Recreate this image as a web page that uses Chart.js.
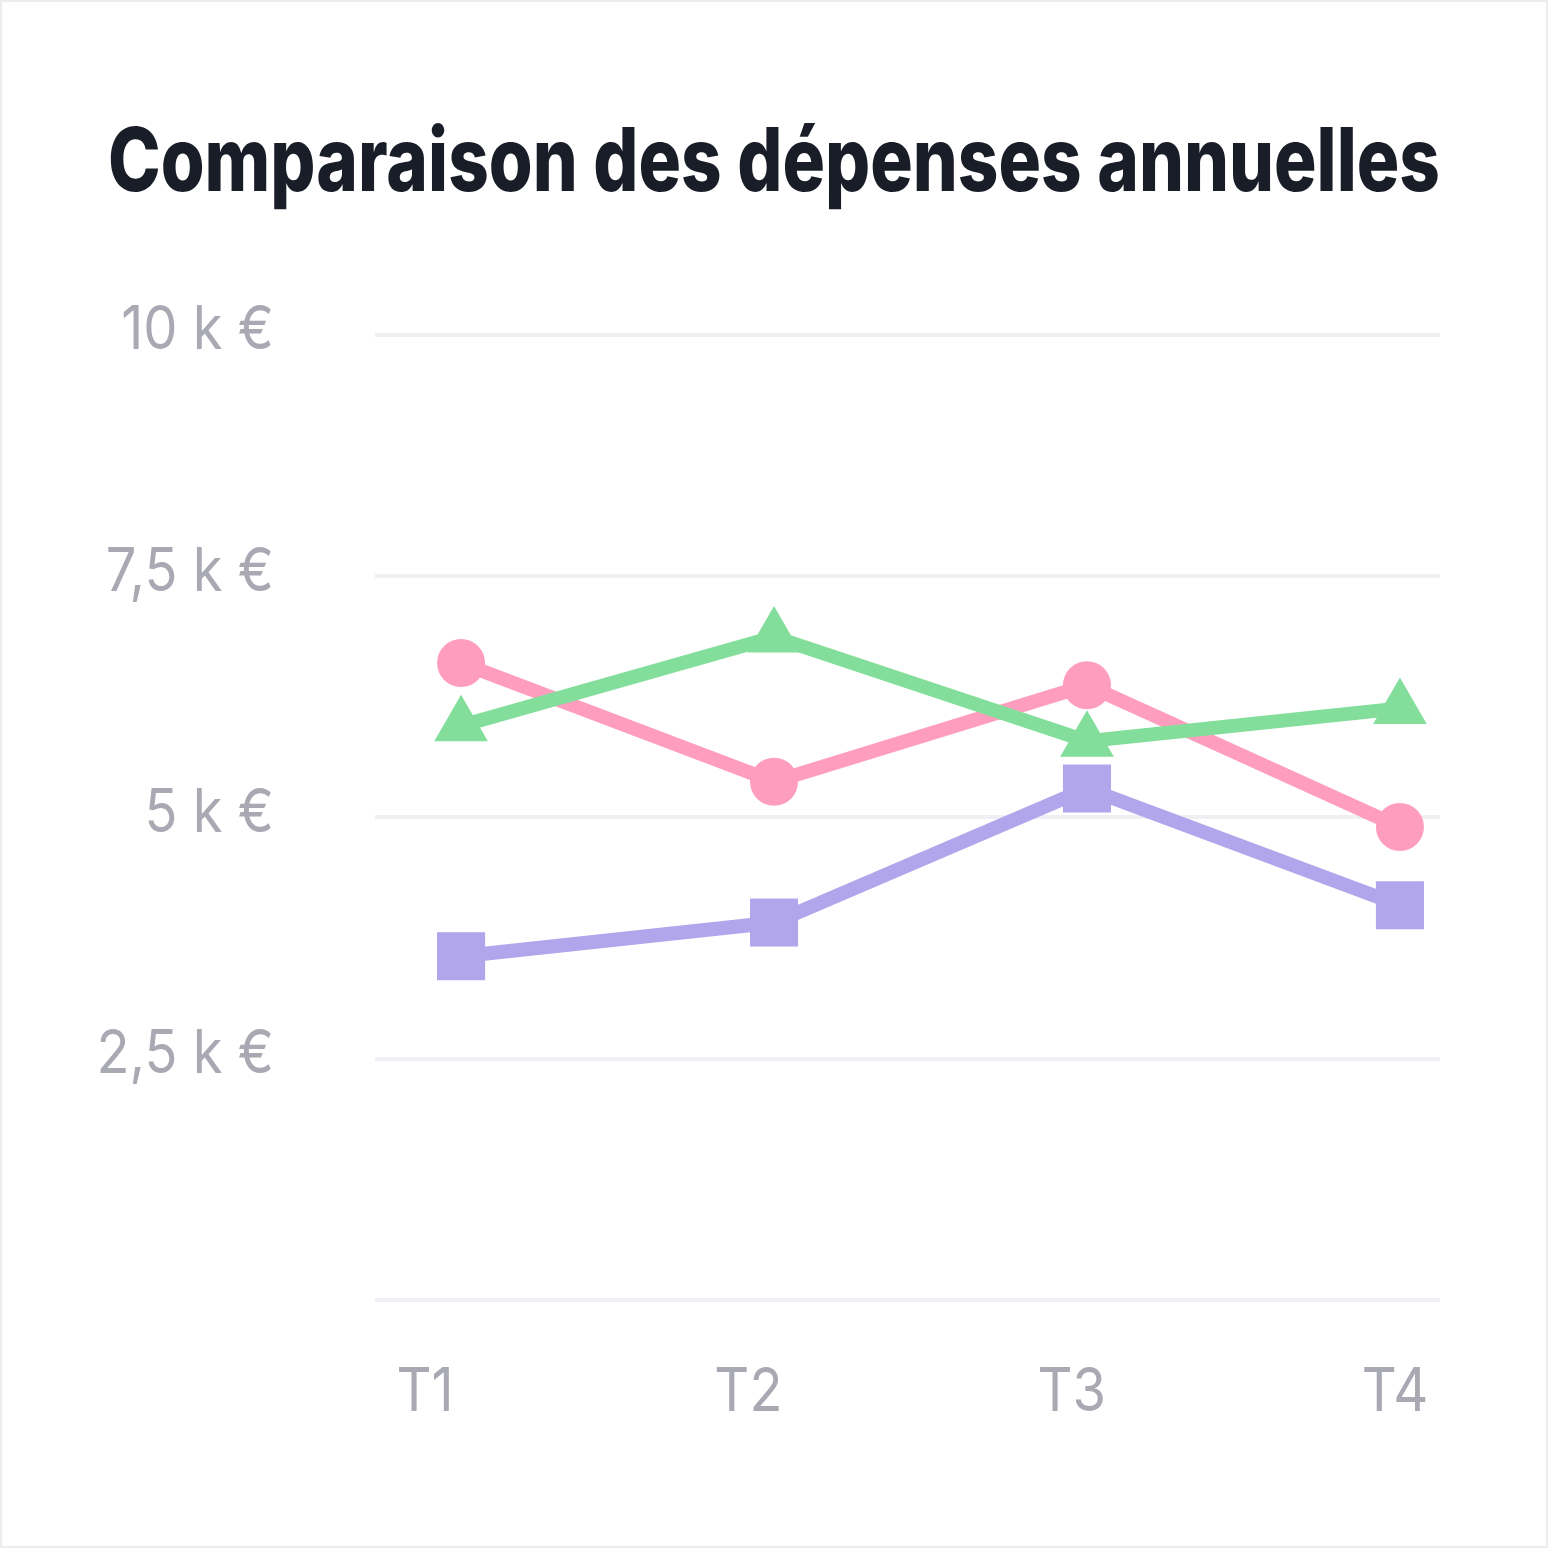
<!DOCTYPE html>
<html>
<head>
<meta charset="utf-8">
<script src="https://cdn.jsdelivr.net/npm/chart.js@4.4.1/dist/chart.umd.min.js"></script>
<style>
  html, body { margin: 0; padding: 0; background: #ffffff; }
  #wrap { width: 1548px; height: 1548px; box-sizing: border-box; border: 2px solid #ececef; position: relative; }
  canvas { position: absolute; left: -2px; top: -2px; }
</style>
</head>
<body>
<div id="wrap"><canvas id="c" width="1548" height="1548"></canvas></div>
<script>
// ---- data ----
const categories = ["T1", "T2", "T3", "T4"];
const seriesPink = [6600, 5370, 6370, 4900];
const seriesGreen = [5950, 6870, 5790, 6130];
const seriesPurple = [3560, 3910, 5300, 4090];
const yTicks = [0, 2500, 5000, 7500, 10000];
const yTickLabels = ["", "2,5\u00a0k\u00a0€", "5\u00a0k\u00a0€", "7,5\u00a0k\u00a0€", "10\u00a0k\u00a0€"];
const chartTitle = "Comparaison des dépenses annuelles";

const toPoints = arr => arr.map((v, i) => ({ x: i, y: v }));

const gridColor = "#efeff4";
const tickColor = "#a9a9b3";

// horizontally condensed text rendering (text stays real canvas text)
const condenseText = {
  id: "condenseText",
  beforeInit(chart) {
    const ctx = chart.ctx;
    const orig = ctx.fillText.bind(ctx);
    ctx.fillText = function (text, x, y, maxWidth) {
      const w = ctx.measureText(text).width * 0.89;
      const mw = (maxWidth === undefined || maxWidth === null || isNaN(maxWidth)) ? w : Math.min(maxWidth, w);
      orig(text, x, y, mw);
    };
  }
};

new Chart(document.getElementById("c"), {
  type: "line",
  plugins: [condenseText],
  data: {
    datasets: [
      {
        label: "Série A",
        data: toPoints(seriesGreen),
        borderColor: "#84de9b",
        backgroundColor: "#84de9b",
        borderWidth: 14,
        pointStyle: "triangle",
        pointRadius: 31,
        pointBorderWidth: 0,
        xAxisID: "x", yAxisID: "y"
      },
      {
        label: "Série B",
        data: toPoints(seriesPink),
        borderColor: "#ff9dbe",
        backgroundColor: "#ff9dbe",
        borderWidth: 14,
        pointStyle: "circle",
        pointRadius: 24,
        pointBorderWidth: 0,
        xAxisID: "x", yAxisID: "y"
      },
      {
        label: "Série C",
        data: toPoints(seriesPurple),
        borderColor: "#b1a5ec",
        backgroundColor: "#b1a5ec",
        borderWidth: 14,
        pointStyle: "rect",
        pointRadius: 34,
        pointBorderWidth: 0,
        xAxisID: "x", yAxisID: "y"
      }
    ]
  },
  options: {
    responsive: false,
    animation: false,
    devicePixelRatio: 1,
    layout: { padding: { top: 121, right: 108, bottom: 63, left: 108 } },
    plugins: {
      legend: { display: false },
      tooltip: { enabled: false },
      title: {
        display: true,
        text: chartTitle,
        color: "#191d27",
        font: { family: "Inter", size: 88, weight: "800", lineHeight: 1.0 },
        padding: { top: 0, bottom: 126 }
      }
    },
    scales: {
      x: {
        type: "linear",
        position: "bottom",
        min: -0.275,
        max: 3.128,
        display: false
      },
      xl: {
        type: "linear",
        position: "bottom",
        min: -0.155,
        max: 3.139,
        afterBuildTicks: s => { s.ticks = categories.map((c, i) => ({ value: i })); },
        grid: { display: false, drawTicks: false },
        border: { display: false },
        ticks: {
          color: tickColor,
          font: { family: "Inter", size: 61 },
          padding: 56,
          maxRotation: 0,
          autoSkip: false,
          callback: v => categories[v]
        }
      },
      y: {
        min: 0,
        max: 10000,
        afterBuildTicks: s => { s.ticks = yTicks.map(v => ({ value: v })); },
        afterFit: s => {
          s.width = 267;
          // let the widest label extend slightly past the axis box instead of being clipped
          s._computeLabelArea = () => undefined;
        },
        grid: { color: gridColor, lineWidth: 4, drawTicks: false },
        border: { display: false },
        ticks: {
          color: tickColor,
          font: { family: "Inter", size: 61 },
          padding: 101,
          labelOffset: -4,
          callback: v => yTickLabels[yTicks.indexOf(v)]
        }
      }
    }
  }
});
</script>
</body>
</html>
